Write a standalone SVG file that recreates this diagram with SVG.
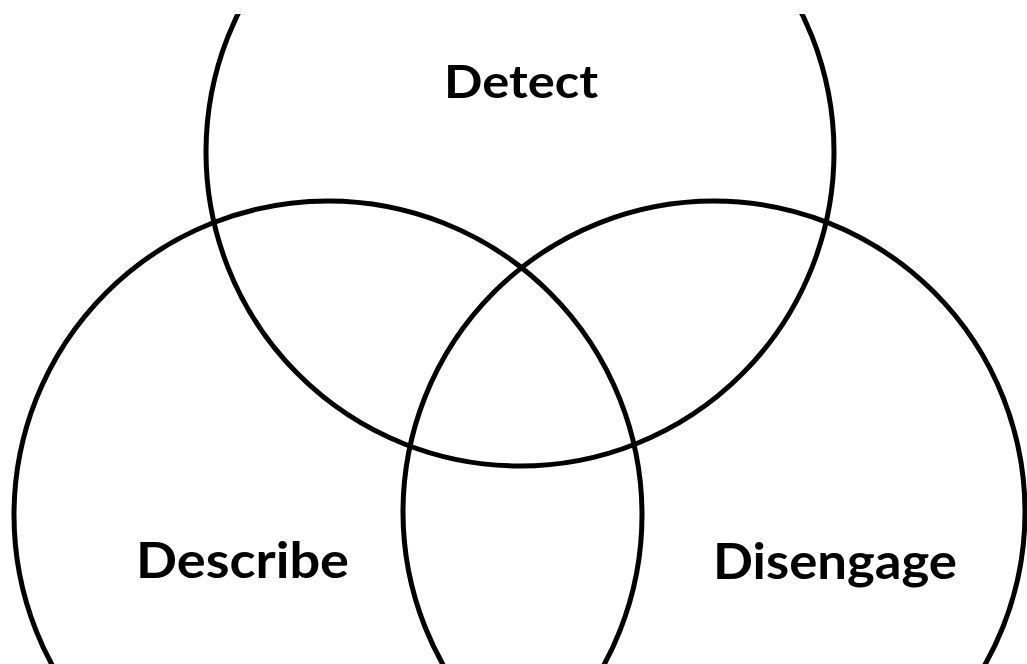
<svg xmlns="http://www.w3.org/2000/svg" width="1027" height="664" viewBox="0 0 1027 664">
  <style>
    .ring { fill: none; stroke: #000; stroke-width: 5; }
    .label { font-family: Lato, "Open Sans", "Liberation Sans", sans-serif; font-weight: bold; fill: #000; }
  </style>
  <rect x="0" y="0" width="1027" height="664" fill="#fff"/>
  <g id="detect">
    <circle class="ring" cx="520" cy="152" r="314"/>
    <text class="label" x="444" y="98" font-size="46" textLength="154" lengthAdjust="spacingAndGlyphs">Detect</text>
  </g>
  <g id="describe">
    <circle class="ring" cx="328" cy="515" r="314"/>
    <text class="label" x="136" y="578" font-size="50" textLength="213" lengthAdjust="spacingAndGlyphs">Describe</text>
  </g>
  <g id="disengage">
    <circle class="ring" cx="714" cy="512" r="311"/>
    <text class="label" x="713" y="579" font-size="50" textLength="244" lengthAdjust="spacingAndGlyphs">Disengage</text>
  </g>
  <g id="connectors"></g>
  <rect x="0" y="0" width="1027" height="14" fill="#fff"/>
</svg>
